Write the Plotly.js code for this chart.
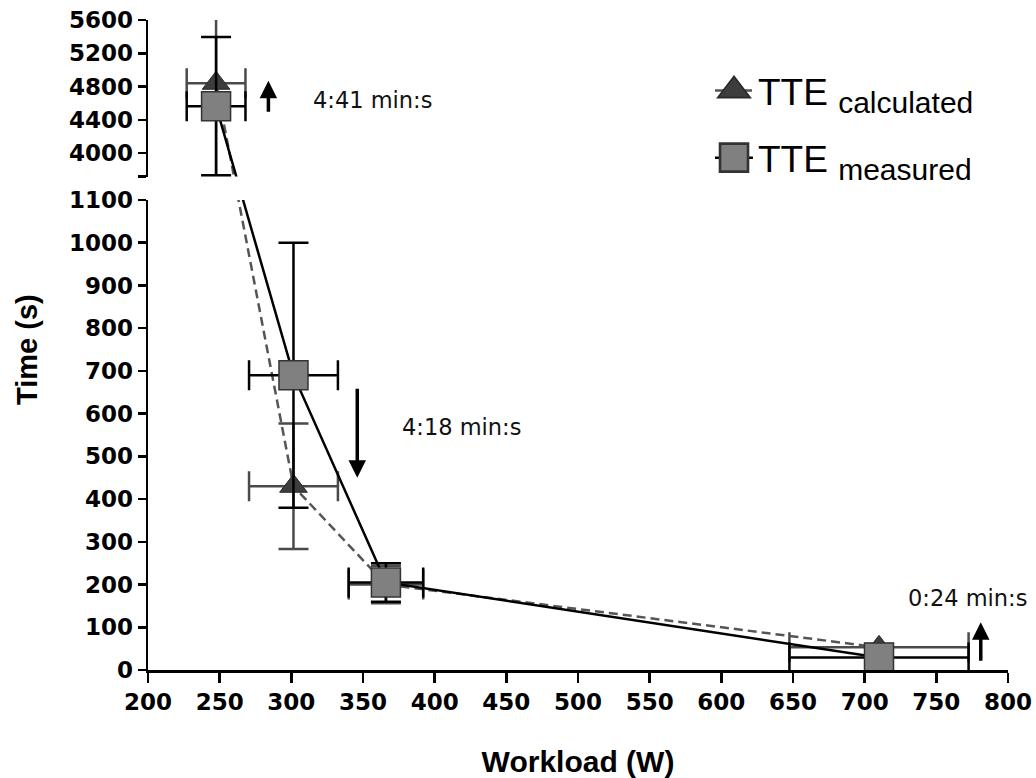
<!DOCTYPE html>
<html>
<head>
<meta charset="utf-8">
<script src="https://cdn.plot.ly/plotly-3.0.1.min.js"></script>
<style>
  html, body { margin: 0; padding: 0; background: #fff; }
  #chart { width: 1036px; height: 778px; }
</style>
</head>
<body>
<div id="chart"></div>
<script>
// ---------------- data ----------------
const workload      = [247.5, 301.5, 366, 710];   // W
const workloadSD    = [20.5, 31, 26, 62.5];
const tteCalculated = [4840, 430, 200, 53];       // s
const tteCalcSD     = [1130, 147, 44, 8];
const tteMeasured   = [4565, 690, 205, 29];       // s
const tteMeasSD     = [830, 310, 45, 8];

const xTicks      = [200, 250, 300, 350, 400, 450, 500, 550, 600, 650, 700, 750, 800];
const lowerTicks  = [0, 100, 200, 300, 400, 500, 600, 700, 800, 900, 1000, 1100];
const upperTicks  = [4000, 4400, 4800, 5200, 5600];

const annotTexts = ['4:41 min:s', '4:18 min:s', '0:24 min:s'];

// ---------------- broken-axis geometry ----------------
const W = 1036, H = 778;
const margin = {l: 148, r: 28, t: 20, b: 108};
const plotH = H - margin.t - margin.b;
const plotW = W - margin.l - margin.r;
const lowerRange = [0, 1100];
const upperRange = [3720, 5600];
const lowerDomain = [0, 0.72308];
const upperDomain = [0.75923, 1];

const pxL = (lowerDomain[1] - lowerDomain[0]) * plotH / (lowerRange[1] - lowerRange[0]);
const pxU = (upperDomain[1] - upperDomain[0]) * plotH / (upperRange[1] - upperRange[0]);

// position (px from bottom of plot area) of a value on the broken scale
function P(v) {
  if (v <= lowerRange[1]) return lowerDomain[0] * plotH + (v - lowerRange[0]) * pxL;
  if (v >= upperRange[0]) return upperDomain[0] * plotH + (v - upperRange[0]) * pxU;
  return lowerDomain[1] * plotH +
    (v - lowerRange[1]) / (upperRange[0] - lowerRange[1]) * (upperDomain[0] - lowerDomain[1]) * plotH;
}
// express a value in the units of the lower / upper segment so lines stay straight on screen
const toLower = v => lowerRange[0] + (P(v) - lowerDomain[0] * plotH) / pxL;
const toUpper = v => upperRange[0] + (P(v) - upperDomain[0] * plotH) / pxU;

function seriesFor(vals, sds, tf) {
  const y = vals.map(tf);
  const plus = vals.map((v, i) => tf(v + sds[i]) - tf(v));
  const minus = vals.map((v, i) => tf(v) - tf(v - sds[i]));
  return {y, plus, minus};
}

const calcStyle = {
  name: 'TTE <sub><span style="font-size:30px">calculated</span></sub>',
  legendgroup: 'calc',
  line: {color: '#555555', width: 2.5, dash: '9px,5px'},
  marker: {symbol: 'triangle-up', size: 24, color: '#3d3d3d', line: {color: '#2a2a2a', width: 1}},
  errColor: '#4a4a4a'
};
const measStyle = {
  name: 'TTE <sub><span style="font-size:30px">measured</span></sub>',
  legendgroup: 'meas',
  line: {color: '#000000', width: 2.5},
  marker: {symbol: 'square', size: 29, color: '#808080', line: {color: '#333333', width: 1.5}},
  errColor: '#000000'
};

function makeTrace(vals, sds, style, tf, yaxis, showlegend) {
  const s = seriesFor(vals, sds, tf);
  return {
    type: 'scatter',
    mode: 'lines+markers',
    x: workload,
    y: s.y,
    xaxis: 'x',
    yaxis: yaxis,
    name: style.name,
    legendgroup: style.legendgroup,
    showlegend: showlegend,
    line: style.line,
    marker: style.marker,
    cliponaxis: true,
    error_x: {type: 'data', array: workloadSD, symmetric: true, color: style.errColor, thickness: 2.5, width: 15},
    error_y: {type: 'data', array: s.plus, arrayminus: s.minus, symmetric: false, color: style.errColor, thickness: 2.5, width: 15},
    hoverinfo: 'skip'
  };
}

const data = [
  makeTrace(tteCalculated, tteCalcSD, calcStyle, toLower, 'y', true),
  makeTrace(tteMeasured, tteMeasSD, measStyle, toLower, 'y', true),
  makeTrace(tteCalculated, tteCalcSD, calcStyle, toUpper, 'y2', false),
  makeTrace(tteMeasured, tteMeasSD, measStyle, toUpper, 'y2', false)
];

const tickFont = {family: 'DejaVu Sans, sans-serif', size: 23, color: '#000', weight: 'bold'};
const noteFont = {family: 'DejaVu Sans, sans-serif', size: 22.5, color: '#111'};

const axisCommon = {
  showgrid: false, zeroline: false, showline: true, linecolor: '#000', linewidth: 2.5,
  ticks: 'outside', tickcolor: '#000', tickwidth: 2.5, tickfont: tickFont, fixedrange: true
};

const arrowStyle = {text: '', showarrow: true, arrowhead: 2, arrowsize: 1, arrowwidth: 3.5,
                    arrowcolor: '#000', standoff: 0, startstandoff: 0};

const layout = {
  width: W, height: H,
  margin: margin,
  paper_bgcolor: '#fff', plot_bgcolor: '#fff',
  showlegend: true,
  legend: {
    x: (710 - margin.l) / plotW, xanchor: 'left',
    y: (H - margin.b - 60) / plotH, yanchor: 'top',
    font: {family: 'Liberation Sans, Arial, sans-serif', size: 37, color: '#000'},
    traceorder: 'grouped', tracegroupgap: 16, itemwidth: 38,
    bgcolor: 'rgba(0,0,0,0)'
  },
  xaxis: Object.assign({}, axisCommon, {
    range: [200, 800], tickvals: xTicks, ticklen: 10, anchor: 'y',
    title: {text: '<b>Workload (W)</b>', standoff: 44,
            font: {family: 'Liberation Sans, Arial, sans-serif', size: 30, color: '#000'}}
  }),
  yaxis: Object.assign({}, axisCommon, {
    domain: lowerDomain, range: lowerRange, tickvals: lowerTicks, ticklen: 8, anchor: 'x'
  }),
  yaxis2: Object.assign({}, axisCommon, {
    domain: upperDomain, range: upperRange,
    tickvals: upperTicks.concat([upperRange[0]]),
    ticktext: upperTicks.map(String).concat([' ']),
    ticklen: 8, anchor: 'x'
  }),
  annotations: [
    {xref: 'paper', yref: 'paper', x: (27 - margin.l) / plotW, y: (H - margin.b - 350) / plotH,
     text: '<b>Time (s)</b>', textangle: -90, showarrow: false, xanchor: 'center', yanchor: 'middle',
     font: {family: 'Liberation Sans, Arial, sans-serif', size: 29, color: '#000'}},
    // note texts
    {xref: 'x', yref: 'y2', x: 314, y: 4642, text: annotTexts[0], showarrow: false, xanchor: 'left', yanchor: 'middle', font: noteFont},
    {xref: 'x', yref: 'y', x: 376, y: 569, text: annotTexts[1], showarrow: false, xanchor: 'left', yanchor: 'middle', font: noteFont},
    {xref: 'x', yref: 'y', x: 729, y: 168, text: annotTexts[2], showarrow: false, xanchor: 'left', yanchor: 'middle', font: noteFont},
    // arrows
    Object.assign({xref: 'x', yref: 'y2', axref: 'x', ayref: 'y2', x: 284, y: 4870, ax: 284, ay: 4480}, arrowStyle),
    Object.assign({xref: 'x', yref: 'y', axref: 'x', ayref: 'y', x: 346, y: 450, ax: 346, ay: 662}, arrowStyle),
    Object.assign({xref: 'x', yref: 'y', axref: 'x', ayref: 'y', x: 781, y: 112, ax: 781, ay: 18}, arrowStyle)
  ]
};

Plotly.newPlot('chart', data, layout, {staticPlot: true, displayModeBar: false}).then(function (gd) {
  // legend symbols are capped at 16px by Plotly; enlarge them to match the plotted markers
  gd.querySelectorAll('.legend .legendpoints path.scatterpts').forEach(function (el) {
    const t = el.getAttribute('transform') || '';
    el.setAttribute('transform', t + ' scale(1.75)');
  });
});
</script>
</body>
</html>
